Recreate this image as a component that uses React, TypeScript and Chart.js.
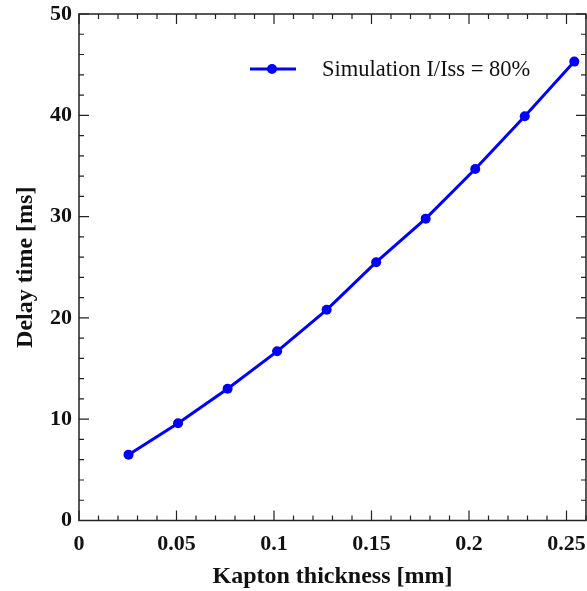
import { useEffect, useRef } from 'react';
import { Chart, registerables } from 'chart.js';

Chart.register(...registerables);

const thicknessMm = [0.0254, 0.0508, 0.0762, 0.1016, 0.127, 0.1524, 0.1778, 0.2032, 0.2286, 0.254];
const delayMs = [6.5, 9.6, 13.0, 16.7, 20.8, 25.5, 29.8, 34.7, 39.9, 45.3];
const xTickValues = [0, 0.05, 0.1, 0.15, 0.2, 0.25];
const yTickValues = [0, 10, 20, 30, 40, 50];
const xMinorStep = 0.01;
const yMinorStep = 2;
const seriesLabel = 'Simulation I/Iss = 80%';
const xTitle = 'Kapton thickness [mm]';
const yTitle = 'Delay time [ms]';

const SERIF = '"Liberation Serif", "Times New Roman", serif';
const BLUE = '#0000ff';

const framePlugin = {
  id: 'frameTicks',
  afterLayout(chart: any) {
    const target = chart.width - 1;
    const ca = chart.chartArea;
    if (ca.right !== target) {
      ca.right = target;
      ca.width = target - ca.left;
      const xs = chart.scales.x;
      xs.right = target;
      xs.width = target - xs.left;
      xs.configure();
    }
  },
  afterDatasetsDraw(chart: any) {
    const { ctx, chartArea, scales } = chart;
    const { left, right, top, bottom } = chartArea;
    const xs = scales.x;
    const ys = scales.y;
    ctx.save();
    ctx.strokeStyle = '#222';
    ctx.lineWidth = 1.5;
    ctx.strokeRect(left, top, right - left, bottom - top);
    ctx.lineWidth = 1.2;
    ctx.beginPath();
    const major = 10;
    const minor = 5;
    for (let i = 0; i * xMinorStep <= xs.max + 1e-9; i++) {
      const v = i * xMinorStep;
      const isMajor = xTickValues.some((t) => Math.abs(t - v) < 1e-9);
      const len = isMajor ? major : minor;
      const px = xs.getPixelForValue(v);
      ctx.moveTo(px, bottom);
      ctx.lineTo(px, bottom - len);
      ctx.moveTo(px, top);
      ctx.lineTo(px, top + len);
    }
    for (let i = 0; i * yMinorStep <= ys.max + 1e-9; i++) {
      const v = i * yMinorStep;
      const isMajor = yTickValues.some((t) => Math.abs(t - v) < 1e-9);
      const len = isMajor ? major : minor;
      const py = ys.getPixelForValue(v);
      ctx.moveTo(left, py);
      ctx.lineTo(left + len, py);
      ctx.moveTo(right, py);
      ctx.lineTo(right - len, py);
    }
    ctx.stroke();

    // legend
    const ly = 69;
    ctx.strokeStyle = BLUE;
    ctx.lineWidth = 3;
    ctx.beginPath();
    ctx.moveTo(250, ly);
    ctx.lineTo(296, ly);
    ctx.stroke();
    ctx.fillStyle = BLUE;
    ctx.beginPath();
    ctx.arc(272, ly, 5, 0, Math.PI * 2);
    ctx.fill();
    ctx.fillStyle = '#111';
    ctx.font = `22.5px ${SERIF}`;
    ctx.textAlign = 'left';
    ctx.textBaseline = 'middle';
    ctx.fillText(seriesLabel, 322, ly + 1);
    ctx.restore();
  },
};

export default function App() {
  const ref = useRef<HTMLCanvasElement | null>(null);

  useEffect(() => {
    document.body.style.margin = '0';
    const canvas = ref.current;
    if (!canvas) return;
    const chart = new Chart(canvas, {
      type: 'line',
      data: {
        datasets: [
          {
            label: seriesLabel,
            data: thicknessMm.map((x, i) => ({ x, y: delayMs[i] })),
            borderColor: BLUE,
            backgroundColor: BLUE,
            borderWidth: 3,
            pointRadius: 5,
            pointHoverRadius: 5,
            pointBorderWidth: 0,
            tension: 0,
          },
        ],
      },
      options: {
        responsive: false,
        animation: false,
        devicePixelRatio: 1,
        layout: { padding: { top: 14, right: 1, left: 0, bottom: 0 } },
        plugins: {
          legend: { display: false },
          tooltip: { enabled: false },
        },
        scales: {
          x: {
            type: 'linear',
            min: 0,
            max: 0.26,
            grid: { display: false, drawTicks: false },
            border: { display: false },
            afterBuildTicks: (s: any) => {
              s.ticks = xTickValues.map((value) => ({ value }));
            },
            afterFit: (s: any) => {
              s.height = 70.5;
              s.paddingLeft = 0;
              s.paddingRight = 0;
            },
            ticks: {
              padding: 11,
              color: '#111',
              maxRotation: 0,
              autoSkip: false,
              font: { family: SERIF, size: 22, weight: 'bold' },
              callback: (v: any) => String(v),
            },
            title: {
              display: true,
              text: xTitle,
              color: '#111',
              font: { family: SERIF, size: 24, weight: 'bold' },
              padding: { top: 0, bottom: 0 },
            },
          },
          y: {
            type: 'linear',
            min: 0,
            max: 50,
            grid: { display: false, drawTicks: false },
            border: { display: false },
            afterBuildTicks: (s: any) => {
              s.ticks = yTickValues.map((value) => ({ value }));
            },
            afterFit: (s: any) => {
              s.width = 79;
              s.paddingTop = 0;
              s.paddingBottom = 0;
            },
            ticks: {
              padding: 7,
              color: '#111',
              autoSkip: false,
              font: { family: SERIF, size: 22, weight: 'bold' },
              callback: (v: any) => String(v),
            },
            title: {
              display: true,
              text: yTitle,
              color: '#111',
              font: { family: SERIF, size: 24, weight: 'bold' },
              padding: { top: 11, bottom: 0 },
            },
          },
        },
      },
      plugins: [framePlugin],
    } as any);
    return () => chart.destroy();
  }, []);

  return (
    <div style={{ width: 587, height: 591, background: '#fff' }}>
      <canvas ref={ref} width={587} height={591} style={{ display: 'block' }} />
    </div>
  );
}
